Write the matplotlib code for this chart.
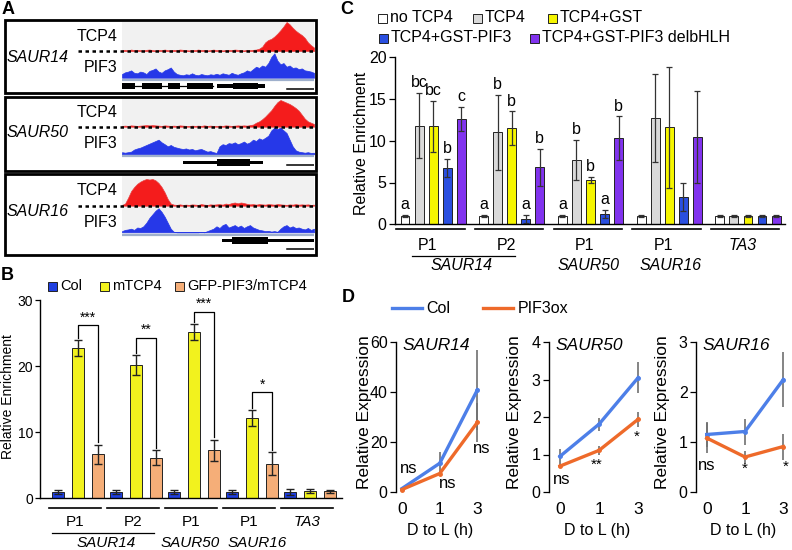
import numpy as np
import matplotlib
matplotlib.use('Agg')
import matplotlib.pyplot as plt
from matplotlib.patches import Rectangle
from matplotlib.lines import Line2D

plt.rcParams['font.family'] = ['Liberation Sans', 'DejaVu Sans']

W, H = 792, 550

# ---------------- data ----------------
# panel A: ChIP-seq coverage (relative, 0-1) in 64 bins across the browser window
track_pos = np.linspace(0, 100, 64)

tcp4_saur14 = [0.03, 0.04, 0.02, 0.05, 0.03, 0.04, 0.03, 0.02, 0.04, 0.05,
               0.03, 0.02, 0.04, 0.03, 0.05, 0.03, 0.02, 0.04, 0.03, 0.05,
               0.04, 0.03, 0.02, 0.04, 0.03, 0.05, 0.03, 0.04, 0.02, 0.03,
               0.05, 0.03, 0.04, 0.02, 0.03, 0.04, 0.03, 0.05, 0.04, 0.03,
               0.02, 0.04, 0.03, 0.04, 0.05, 0.08, 0.15, 0.3, 0.38, 0.42,
               0.5, 0.6, 0.72, 0.85, 1.0, 0.92, 0.8, 0.7, 0.62, 0.55,
               0.45, 0.3, 0.2, 0.12]
pif3_saur14 = [0.15, 0.22, 0.25, 0.3, 0.2, 0.18, 0.25, 0.22, 0.15, 0.28,
               0.32, 0.38, 0.25, 0.2, 0.3, 0.35, 0.42, 0.25, 0.15, 0.12,
               0.1, 0.14, 0.12, 0.18, 0.12, 0.1, 0.15, 0.12, 0.1, 0.14,
               0.12, 0.16, 0.12, 0.18, 0.15, 0.12, 0.2, 0.15, 0.12, 0.18,
               0.22, 0.3, 0.25, 0.35, 0.45, 0.4, 0.5, 0.45, 0.6, 0.85,
               1.0, 0.7, 0.55, 0.6, 0.45, 0.5, 0.4, 0.42, 0.35, 0.38,
               0.3, 0.28, 0.25, 0.2]
tcp4_saur50 = [0.03, 0.04, 0.03, 0.05, 0.04, 0.03, 0.04, 0.05, 0.06, 0.05,
               0.06, 0.05, 0.04, 0.03, 0.05, 0.04, 0.03, 0.04, 0.03, 0.05,
               0.04, 0.03, 0.02, 0.04, 0.03, 0.04, 0.03, 0.05, 0.03, 0.04,
               0.03, 0.02, 0.04, 0.03, 0.05, 0.04, 0.03, 0.04, 0.05, 0.04,
               0.05, 0.04, 0.06, 0.08, 0.15, 0.2, 0.28, 0.38, 0.5, 0.62,
               0.78, 0.92, 1.0, 0.95, 0.9, 0.85, 0.78, 0.7, 0.6, 0.45,
               0.3, 0.2, 0.15, 0.1]
pif3_saur50 = [0.08, 0.06, 0.08, 0.1, 0.18, 0.22, 0.25, 0.3, 0.35, 0.4,
               0.45, 0.5, 0.55, 0.45, 0.38, 0.3, 0.35, 0.28, 0.25, 0.22,
               0.2, 0.22, 0.18, 0.2, 0.15, 0.18, 0.2, 0.15, 0.1, 0.12,
               0.08, 0.05, 0.3, 0.38, 0.35, 0.42, 0.4, 0.45, 0.38, 0.42,
               0.48, 0.4, 0.45, 0.55, 0.5, 0.6, 0.55, 0.62, 0.7, 0.9,
               1.0, 0.95, 1.0, 0.9, 0.8, 0.55, 0.3, 0.15, 0.1, 0.08,
               0.06, 0.08, 0.05, 0.06]
tcp4_saur16 = [0.03, 0.08, 0.3, 0.55, 0.7, 0.82, 0.9, 0.96, 1.0, 0.98,
               1.0, 0.95, 0.85, 0.7, 0.5, 0.25, 0.08, 0.04, 0.03, 0.05,
               0.03, 0.04, 0.03, 0.05, 0.04, 0.03, 0.06, 0.04, 0.03, 0.05,
               0.04, 0.05, 0.06, 0.04, 0.08, 0.06, 0.1, 0.12, 0.09, 0.12,
               0.1, 0.07, 0.05, 0.06, 0.04, 0.06, 0.05, 0.04, 0.06, 0.05,
               0.04, 0.06, 0.05, 0.04, 0.03, 0.05, 0.04, 0.06, 0.04, 0.05,
               0.04, 0.05, 0.03, 0.04]
pif3_saur16 = [0.05, 0.1, 0.12, 0.15, 0.1, 0.2, 0.18, 0.25, 0.4, 0.6,
               0.75, 0.9, 1.0, 0.85, 0.65, 0.4, 0.15, 0.02, 0.0, 0.0,
               0.0, 0.0, 0.0, 0.0, 0.0, 0.0, 0.02, 0.0, 0.05, 0.1,
               0.15, 0.25, 0.18, 0.3, 0.35, 0.2, 0.25, 0.3, 0.22, 0.28,
               0.18, 0.25, 0.3, 0.2, 0.15, 0.1, 0.08, 0.05, 0.06, 0.03,
               0.05, 0.02, 0.15, 0.25, 0.3, 0.2, 0.25, 0.18, 0.2, 0.15,
               0.12, 0.18, 0.1, 0.15]

# gene models: (start, end, is_coding) in browser units, plus intron spans
genes_saur14 = [(0, 6.8, 1), (10.3, 20.7, 1), (23.8, 30.2, 1), (34, 47.6, 1),
                (49.3, 58, 0), (58, 71, 1), (71, 74.5, 0)]
introns_saur14 = [(0, 47.6)]
genes_saur50 = [(31.9, 49.3, 0), (49.3, 66.7, 1), (66.7, 73.6, 0)]
introns_saur50 = []
genes_saur16 = [(52, 57.3, 0), (57.3, 76, 1), (76, 100, 0)]
introns_saur16 = []
scalebar_span = (86, 100)

# panel B: ChIP-qPCR
b_sites = ['P1', 'P2', 'P1', 'P1', 'TA3']
b_col = [0.9, 0.9, 0.9, 0.9, 0.9]
b_col_err = [0.35, 0.3, 0.3, 0.3, 0.4]
b_mtcp4 = [22.7, 20.1, 25.1, 12.1, 1.0]
b_mtcp4_err = [1.2, 1.5, 1.2, 1.2, 0.3]
b_gfp = [6.6, 6.1, 7.2, 5.2, 1.0]
b_gfp_err = [1.5, 1.1, 1.6, 1.7, 0.2]
b_stars = ['***', '**', '***', '*']
b_bracket_top = [26.2, 24.3, 28.2, 16.0]

# panel C: in-vitro ChIP
c_sites = ['P1', 'P2', 'P1', 'P1', 'TA3']
c_names = ['no TCP4', 'TCP4', 'TCP4+GST', 'TCP4+GST-PIF3', 'TCP4+GST-PIF3 delbHLH']
c_notcp4 = [1.0, 1.0, 1.0, 1.0, 1.0]
c_notcp4_err = [0.1, 0.1, 0.1, 0.1, 0.1]
c_tcp4 = [11.8, 11.0, 7.7, 12.7, 1.0]
c_tcp4_err = [3.9, 4.5, 2.4, 5.3, 0.1]
c_gst = [11.7, 11.5, 5.3, 11.6, 1.0]
c_gst_err = [3.1, 2.0, 0.4, 7.2, 0.1]
c_pif3 = [6.7, 0.6, 1.2, 3.3, 1.0]
c_pif3_err = [1.1, 0.5, 0.5, 1.7, 0.1]
c_del = [12.6, 6.8, 10.3, 10.4, 1.05]
c_del_err = [1.4, 2.2, 2.6, 5.5, 0.12]
c_letters = [['a', 'bc', 'bc', 'b', 'c'],
             ['a', 'b', 'b', 'a', 'b'],
             ['a', 'b', 'b', 'a', 'b'],
             ['', '', '', '', ''],
             ['', '', '', '', '']]

# panel D: expression after dark-to-light transfer
d_genes = ['SAUR14', 'SAUR50', 'SAUR16']
d_times = ['0', '1', '3']
d_col = [[1.4, 11.5, 40.9], [0.95, 1.81, 3.05], [1.15, 1.21, 2.25]]
d_col_err = [[0.8, 4.7, 16.0], [0.19, 0.17, 0.41], [0.25, 0.26, 0.55]]
d_pif = [[1.0, 7.4, 27.9], [0.69, 1.11, 1.94], [1.08, 0.70, 0.91]]
d_pif_err = [[0.5, 1.0, 7.7], [0.06, 0.13, 0.2], [0.3, 0.13, 0.26]]
d_sig = [['ns', 'ns', 'ns'], ['ns', '**', '*'], ['ns', '*', '*']]
d_sig_y = [[9.5, 3.4, 17.3], [0.32, 0.73, 1.47], [0.53, 0.47, 0.5]]
d_ymax = [60, 4, 3]

# ---------------- helpers (pixel layout -> figure coords) ----------------
fig = plt.figure(figsize=(W / 100, H / 100), dpi=100)


def rect(x0, y0, x1, y1):
    return [x0 / W, 1 - y1 / H, (x1 - x0) / W, (y1 - y0) / H]


def ftext(x, y, s, **kw):
    fig.text(x / W, 1 - y / H, s, **kw)


def fline(x0, x1, y, **kw):
    fig.add_artist(Line2D([x0 / W, x1 / W], [1 - y / H, 1 - y / H],
                          transform=fig.transFigure, **kw))


def fbox(x0, y0, x1, y1, **kw):
    fig.add_artist(Rectangle((x0 / W, 1 - y1 / H), (x1 - x0) / W, (y1 - y0) / H,
                             transform=fig.transFigure, **kw))


# panel letters
for lab, x, y in [('A', 8, 9), ('B', 7, 276), ('C', 347, 9), ('D', 348, 298)]:
    ftext(x, y, lab, fontsize=13, fontweight='bold', ha='center', va='center')

# ---------------- panel A ----------------
# box_top, box_bot, tcp4 base/top, pif3 base/top, gray line, gene row, scale bar
a_layout = [(20, 93, 51, 22, 77.7, 53.3, 79.5, 86, 88.5),
            (97, 171, 126.7, 100, 154.3, 127.7, 156, 162.7, 165),
            (174, 255, 205.7, 179, 232.3, 208.3, 235, 240.7, 249)]
a_tracks = [('SAUR14', tcp4_saur14, pif3_saur14, genes_saur14, introns_saur14),
            ('SAUR50', tcp4_saur50, pif3_saur50, genes_saur50, introns_saur50),
            ('SAUR16', tcp4_saur16, pif3_saur16, genes_saur16, introns_saur16)]

for (name, tcp, pif, genes, introns), lay in zip(a_tracks, a_layout):
    top, bot, tb, tt, pb, pt, gy, geny, sy = lay
    ax = fig.add_axes(rect(122, top + 1.5, 314, bot - 1.5))
    ax.set_xlim(0, 100)
    ax.set_ylim(bot - 1.5, top + 1.5)
    ax.axis('off')
    ax.axhspan(gy, top + 1.5, color='#f1f1f1', lw=0, zorder=0)
    tcp = np.array(tcp)
    pif = np.array(pif)
    ax.fill_between(track_pos, tb, tb - tcp * (tb - tt), color='#f41c1c', lw=0.5,
                    edgecolor='#e84040', zorder=2)
    ax.fill_between(track_pos, pb, pb - pif * (pb - pt), color='#2638e8', lw=0.5,
                    zorder=2)
    ax.axhline(gy, color='#9fb0cc', lw=1.6, zorder=3)
    for s, e in introns:
        ax.plot([s, e], [geny, geny], color='k', lw=0.9, zorder=3)
    for s, e, coding in genes:
        hh = 3.4 if coding else 1.7
        ax.add_patch(Rectangle((s, geny - hh), e - s, 2 * hh, color='k', lw=0, zorder=4))
    ax.plot(scalebar_span, [sy, sy], color='k', lw=1.1, zorder=4)
    fline(78, 314, tb, color='k', lw=1.8, ls=(0, (1.4, 1.4)))
    fbox(5, top, 316, bot, fill=False, lw=2, ec='k')
    ftext(118, (top + tb) / 2 + 1, 'TCP4', fontsize=11.5, ha='right', va='center')
    ftext(118, (tb + gy) / 2 + 2, 'PIF3', fontsize=11.5, ha='right', va='center')
    ftext(7, tb + 6, name, fontsize=11.5, style='italic', ha='left', va='center')

# ---------------- panel B ----------------
axB = fig.add_axes(rect(40, 300, 342, 498))
xb = np.arange(len(b_sites))
b_series = [(b_col, b_col_err, '#1f3fe0', 'Col'),
            (b_mtcp4, b_mtcp4_err, '#f2f21e', 'mTCP4'),
            (b_gfp, b_gfp_err, '#f5ae78', 'GFP-PIF3/mTCP4')]
for k, (vals, errs, c, lab) in enumerate(b_series):
    axB.bar(xb + (k - 1) * 0.345, vals, 0.2, yerr=errs, color=c, edgecolor='#222222',
            lw=0.7, error_kw=dict(ecolor='#222222', elinewidth=1, capsize=3, capthick=1))
for g, star in enumerate(b_stars):
    x1, x2 = g, g + 0.345
    top = b_bracket_top[g]
    y1 = b_mtcp4[g] + b_mtcp4_err[g] + 0.4
    y2 = b_gfp[g] + b_gfp_err[g] + 0.4
    axB.plot([x1, x1, x2, x2], [y1, top, top, y2], color='k', lw=0.9)
    axB.text((x1 + x2) / 2, top + 0.1, star, ha='center', va='bottom', fontsize=10)
axB.set_xlim(-0.655, 4.55)
axB.set_ylim(0, 30)
axB.set_yticks([0, 10, 20, 30])
axB.set_xticks([])
axB.tick_params(axis='y', labelsize=10, length=3.5, width=0.9, pad=1.5)
for sp in ['top', 'right']:
    axB.spines[sp].set_visible(False)
for sp in ['left', 'bottom']:
    axB.spines[sp].set_linewidth(1)
tB = axB.get_xaxis_transform()
for g, site in enumerate(b_sites):
    axB.plot([g - 0.5, g + 0.4], [-0.049, -0.049], color='k', lw=1.2, transform=tB, clip_on=False)
    axB.text(g - 0.05, -0.121, site, transform=tB, ha='center', va='center',
             fontsize=11, style='italic' if site == 'TA3' else 'normal')
axB.plot([-0.45, 1.31], [-0.175, -0.175], color='k', lw=0.9, transform=tB, clip_on=False)
for gx, gname in zip([0.48, 1.94, 3.08], ['SAUR14', 'SAUR50', 'SAUR16']):
    axB.text(gx, -0.227, gname, transform=tB, ha='center', va='center', fontsize=11, style='italic')
ftext(8, 397, 'Relative Enrichment', rotation=90, fontsize=10, ha='center', va='center')
for (vals, errs, c, lab), sx in zip(b_series, [48, 100, 175]):
    fbox(sx, 282, sx + 8.5, 290.5, facecolor=c, ec='#222222', lw=0.7)
    ftext(sx + 12, 286, lab, fontsize=10.5, ha='left', va='center')

# ---------------- panel C ----------------
axC = fig.add_axes(rect(395, 57.1, 785, 224.3))
xc = np.arange(len(c_sites))
c_series = [(c_notcp4, c_notcp4_err, 'white'),
            (c_tcp4, c_tcp4_err, '#d9d9d9'),
            (c_gst, c_gst_err, '#f5f500'),
            (c_pif3, c_pif3_err, '#2a4fe0'),
            (c_del, c_del_err, '#8133ee')]
for k, (vals, errs, c) in enumerate(c_series):
    xs = xc + (k - 2) * 0.178
    axC.bar(xs, vals, 0.114, yerr=errs, color=c, edgecolor='#222222', lw=0.7,
            error_kw=dict(ecolor='#333333', elinewidth=0.9, capsize=2.2, capthick=0.9))
    for g in range(len(c_sites)):
        lt = c_letters[g][k]
        if lt:
            axC.text(xs[g], vals[g] + errs[g] + 0.35, lt, ha='center', va='bottom', fontsize=11.5)
axC.set_xlim(-0.483, 4.47)
axC.set_ylim(0, 20)
axC.set_yticks([0, 5, 10, 15, 20])
axC.set_xticks([])
axC.tick_params(axis='y', labelsize=11.5, length=4, width=0.9, pad=2)
for sp in ['top', 'right']:
    axC.spines[sp].set_visible(False)
for sp in ['left', 'bottom']:
    axC.spines[sp].set_linewidth(1)
tC = axC.get_xaxis_transform()
for g, site in enumerate(c_sites):
    axC.plot([g - 0.47, g + 0.40], [-0.03, -0.03], color='k', lw=1.2, transform=tC, clip_on=False)
    axC.text(g - 0.07, -0.124, site, transform=tC, ha='center', va='center',
             fontsize=11.5, style='italic' if site == 'TA3' else 'normal')
axC.plot([-0.27, 1.04], [-0.19, -0.19], color='k', lw=0.9, transform=tC, clip_on=False)
for gx, gname in zip([0.36, 1.98, 3.02], ['SAUR14', 'SAUR50', 'SAUR16']):
    axC.text(gx, -0.244, gname, transform=tC, ha='center', va='center', fontsize=11.5, style='italic')
ftext(361, 143, 'Relative Enrichment', rotation=90, fontsize=11.5, ha='center', va='center')
c_leg_pos = [(378, 18), (473, 18), (548, 18), (379, 38), (530, 38)]
for (vals, errs, c), name, (lx, ly) in zip(c_series, c_names, c_leg_pos):
    fbox(lx, ly - 4.5, lx + 9, ly + 4.5, facecolor=c, ec='#222222', lw=0.7)
    ftext(lx + 12, ly, name, fontsize=11.5, ha='left', va='center')

# ---------------- panel D ----------------
col_line = '#4d7fe8'
pif_line = '#ee6a2a'
d_axes = [(396, 485, -0.16), (549, 646, -0.28), (696, 791, -0.28)]
d_ylab_x = [364, 515, 662]
d_sig_x = [[0.18, 1.2, 2.12], [0.04, 0.95, 1.97], [0.0, 1.0, 2.05]]
xd = np.arange(len(d_times))
for i, (x0, x1, xl) in enumerate(d_axes):
    ax = fig.add_axes(rect(x0, 342, x1, 492))
    ax.errorbar(xd, d_col[i], yerr=d_col_err[i], color=col_line, lw=2.4, marker='o', ms=2.5,
                ecolor='#707070', elinewidth=1.2, capsize=0, clip_on=False)
    ax.errorbar(xd, d_pif[i], yerr=d_pif_err[i], color=pif_line, lw=2.4, marker='o', ms=2.5,
                ecolor='#707070', elinewidth=1.2, capsize=0, clip_on=False)
    for sx, sy, s in zip(d_sig_x[i], d_sig_y[i], d_sig[i]):
        ax.text(sx, sy, s, ha='center', va='center', fontsize=12 if s == 'ns' else 11)
    ax.set_xlim(xl, 2.2)
    ax.set_ylim(0, d_ymax[i])
    ax.set_yticks(np.arange(0, d_ymax[i] + 1, d_ymax[i] // 3 if d_ymax[i] == 60 else 1))
    ax.set_xticks(xd)
    ax.set_xticklabels(d_times)
    ax.tick_params(axis='x', length=0, labelsize=12.5, pad=7)
    ax.tick_params(axis='y', labelsize=11.5, length=4, width=0.9, pad=2)
    for sp in ['top', 'right', 'bottom']:
        ax.spines[sp].set_visible(False)
    ax.spines['left'].set_linewidth(1)
    ax.text(0.07, 0.98, d_genes[i], transform=ax.transAxes, ha='left', va='center',
            fontsize=12.5, style='italic')
    ftext(d_ylab_x[i], 412, 'Relative Expression', rotation=90, fontsize=12.5,
          ha='center', va='center')
    ftext(x0 + 44 + (x1 - x0 - 89) * 0.5, 530, 'D to L (h)', fontsize=11.5, ha='center', va='center')

fline(391.7, 421.7, 308.3, color=col_line, lw=2.4)
ftext(426, 308.3, 'Col', fontsize=11.5, ha='left', va='center')
fline(483.3, 513.3, 308.3, color=pif_line, lw=2.4)
ftext(518, 308.3, 'PIF3ox', fontsize=11.5, ha='left', va='center')

fig.savefig('out.png', dpi=100)
